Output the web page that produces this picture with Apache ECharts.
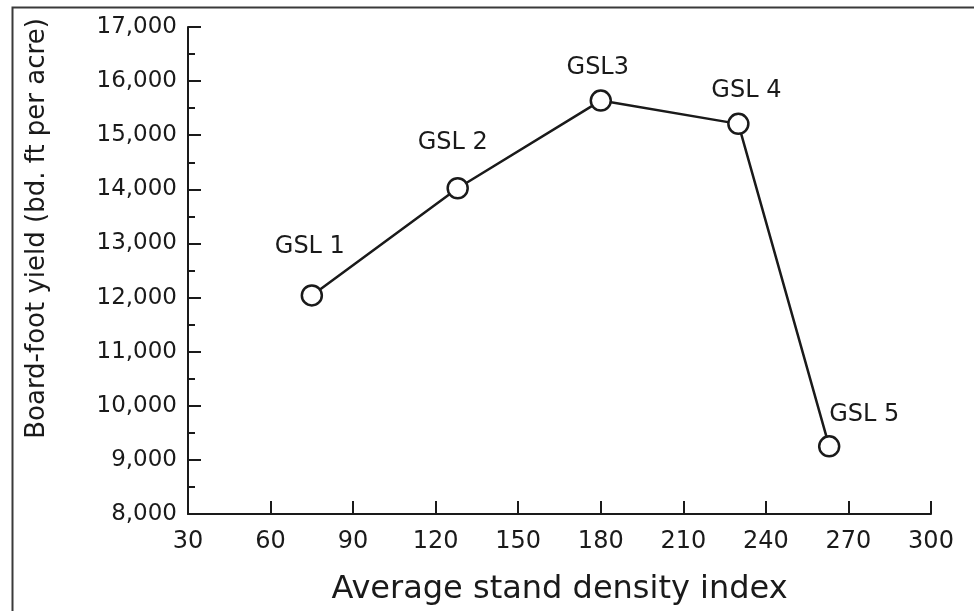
<!DOCTYPE html>
<html>
<head>
<meta charset="utf-8">
<script src="https://cdn.jsdelivr.net/npm/echarts@6/dist/echarts.min.js"></script>
<style>html,body{margin:0;padding:0;background:#fff}#c{width:974px;height:611px}</style>
</head>
<body>
<div id="c"></div>
<script>
// Data
var pointNames = ['GSL 1', 'GSL 2', 'GSL3', 'GSL 4', 'GSL 5'];
var sdiValues = [75, 128, 180, 230, 263];
var yieldValues = [12040, 14020, 15640, 15210, 9250];
var xTicks = [30, 60, 90, 120, 150, 180, 210, 240, 270, 300];
var yTicks = [8000, 9000, 10000, 11000, 12000, 13000, 14000, 15000, 16000, 17000];

// Label offsets (style, relative to point centre)
var labelOffsets = [[-2, -49], [-5, -45], [-3, -33], [8, -33], [35, -32]];

var ink = '#1a1a1a';
var font = 'DejaVu Sans';

var seriesData = sdiValues.map(function (x, i) {
  return {
    value: [x, yieldValues[i]],
    name: pointNames[i],
    label: { offset: labelOffsets[i] }
  };
});

var chart = echarts.init(document.getElementById('c'), null, { renderer: 'canvas' });
chart.setOption({
  backgroundColor: '#fff',
  animation: false,
  graphic: [{
    type: 'rect',
    left: 10, top: 5,
    shape: { width: 1000, height: 700 },
    style: { fill: 'none', stroke: '#3a3a3a', lineWidth: 2 },
    silent: true
  }],
  grid: { left: 188, right: 43, top: 27, bottom: 96, containLabel: false },
  xAxis: {
    type: 'value',
    min: xTicks[0], max: xTicks[xTicks.length - 1], interval: xTicks[1] - xTicks[0],
    name: 'Average stand density index',
    nameLocation: 'middle', nameGap: 60,
    nameTextStyle: { fontFamily: font, fontSize: 32, color: ink },
    axisLine: { lineStyle: { color: ink, width: 2 } },
    axisTick: { inside: true, length: 13, lineStyle: { color: ink, width: 2 } },
    axisLabel: { fontFamily: font, fontSize: 24, color: ink, margin: 16 },
    splitLine: { show: false }
  },
  yAxis: {
    type: 'value',
    min: yTicks[0], max: yTicks[yTicks.length - 1], interval: yTicks[1] - yTicks[0],
    name: 'Board-foot yield (bd. ft per acre)',
    nameLocation: 'middle', nameGap: 138, nameRotate: 90,
    nameTextStyle: { fontFamily: font, fontSize: 26, color: ink, padding: [0, 0, 0, 84] },
    axisLine: { lineStyle: { color: ink, width: 2 } },
    axisTick: { inside: true, length: 13, lineStyle: { color: ink, width: 2 } },
    minorTick: { show: true, splitNumber: 2, length: 7, lineStyle: { color: ink, width: 2 } },
    axisLabel: {
      fontFamily: font, fontSize: 23, color: ink, margin: 11,
      formatter: function (v) { return v.toLocaleString('en-US'); }
    },
    splitLine: { show: false }
  },
  series: [{
    type: 'line',
    data: seriesData,
    symbol: 'circle',
    symbolSize: 20,
    showAllSymbol: true,
    lineStyle: { color: ink, width: 2.5 },
    itemStyle: { color: '#fff', borderColor: ink, borderWidth: 2.5 },
    label: {
      show: true,
      position: 'inside',
      formatter: function (p) { return p.name; },
      fontFamily: font, fontSize: 24, color: ink
    },
    z: 3
  }]
});
</script>
</body>
</html>
